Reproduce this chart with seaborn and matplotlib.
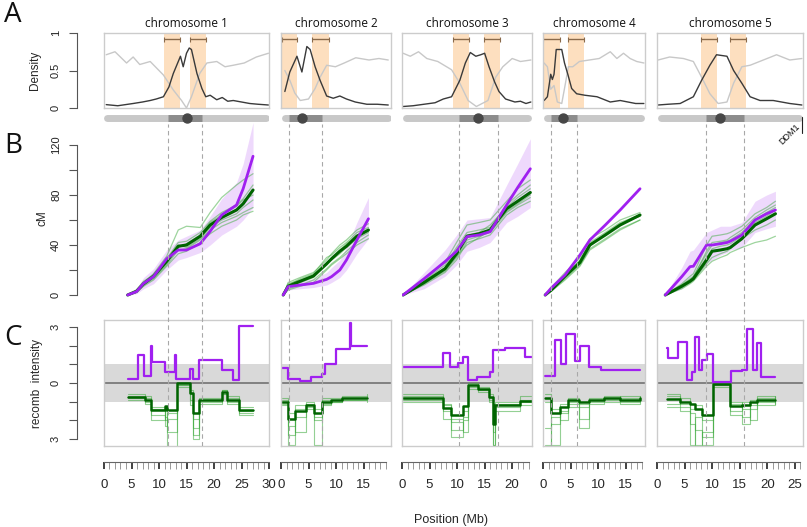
import matplotlib
matplotlib.use("Agg")
import matplotlib.pyplot as plt
import seaborn as sns
import numpy as np

# ---------------- chromosome-level data ----------------
chrom_titles = ["chromosome 1", "chromosome 2", "chromosome 3", "chromosome 4", "chromosome 5"]
chrom_extent = [30.0, 20.0, 23.6, 18.5, 26.5]   # Mb shown in each column
ruler_max = [30, 19, 23, 18, 26]
centromere_pos = [15.1, 3.8, 13.8, 3.6, 11.5]
peri_start = [11.6, 1.4, 10.4, 1.5, 8.9]
peri_end = [17.8, 7.5, 17.5, 6.2, 15.8]
hot_left = [(10.9, 13.8), (0.2, 2.9), (9.3, 12.2), (0.0, 3.1), (8.0, 10.9)]
hot_right = [(15.6, 18.5), (5.6, 8.7), (14.9, 17.8), (4.5, 7.5), (13.3, 16.2)]
ddm1_pos = 26.3

# ---------------- panel A: density ----------------
a1_x = [0.4, 2.5, 5.3, 7.0, 8.4, 9.5, 10.8, 11.8, 12.6, 13.9, 14.4, 15.0, 15.5, 15.9, 16.9, 17.8, 18.5, 19.3, 20.5, 21.5, 22.5, 23.5, 25.0, 26.5, 28.0, 29.9]
a1_black = [0.045, 0.03, 0.06, 0.08, 0.10, 0.12, 0.15, 0.28, 0.46, 0.69, 0.55, 0.73, 0.80, 0.78, 0.46, 0.26, 0.15, 0.17, 0.11, 0.14, 0.09, 0.10, 0.08, 0.06, 0.05, 0.04]
a1_gx = [0.4, 2.0, 4.1, 5.3, 6.5, 8.4, 10.8, 12.6, 14.1, 15.0, 15.9, 17.4, 18.7, 20.5, 22.0, 23.5, 25.5, 27.7, 29.9]
a1_grey = [0.71, 0.75, 0.60, 0.68, 0.58, 0.62, 0.44, 0.24, 0.10, 0.0, 0.15, 0.46, 0.60, 0.62, 0.55, 0.57, 0.60, 0.68, 0.73]

a2_x = [0.7, 1.6, 2.9, 3.8, 4.7, 5.3, 6.2, 7.1, 8.3, 9.5, 10.7, 11.9, 13.5, 15.6, 17.5, 19.5]
a2_black = [0.22, 0.48, 0.69, 0.48, 0.82, 0.78, 0.55, 0.37, 0.16, 0.13, 0.16, 0.12, 0.08, 0.05, 0.05, 0.04]
a2_gx = [0.7, 1.6, 2.5, 3.5, 5.0, 6.2, 7.1, 8.3, 9.9, 11.5, 13.6, 16.0, 17.8, 19.5]
a2_grey = [0.50, 0.37, 0.20, 0.10, 0.12, 0.26, 0.41, 0.57, 0.55, 0.60, 0.67, 0.64, 0.66, 0.64]

a3_x = [0.2, 2.0, 4.0, 6.0, 7.5, 9.0, 10.5, 11.5, 12.4, 13.4, 14.3, 15.0, 15.8, 16.8, 17.6, 18.8, 20.5, 21.5, 22.5, 23.4]
a3_black = [0.02, 0.03, 0.05, 0.07, 0.12, 0.15, 0.37, 0.60, 0.74, 0.69, 0.71, 0.73, 0.55, 0.35, 0.22, 0.12, 0.08, 0.09, 0.06, 0.08]
a3_gx = [0.2, 1.5, 3.0, 4.5, 6.5, 9.0, 10.5, 12.0, 13.5, 15.6, 17.0, 18.3, 20.0, 21.5, 23.4]
a3_grey = [0.73, 0.69, 0.75, 0.66, 0.62, 0.51, 0.33, 0.10, 0.02, 0.10, 0.41, 0.55, 0.66, 0.62, 0.64]

a4_x = [0.2, 0.8, 1.4, 1.7, 2.0, 2.4, 3.4, 3.9, 4.5, 5.2, 6.1, 7.6, 9.8, 12.2, 14.0, 16.8, 18.3]
a4_black = [0.10, 0.15, 0.45, 0.38, 0.45, 0.78, 0.78, 0.60, 0.45, 0.26, 0.19, 0.17, 0.15, 0.08, 0.10, 0.06, 0.06]
a4_gx = [0.2, 0.8, 1.4, 2.0, 2.6, 3.4, 4.0, 4.6, 5.4, 6.6, 8.4, 10.2, 12.2, 13.4, 14.6, 15.8, 17.0, 18.3]
a4_grey = [0.60, 0.55, 0.25, 0.30, 0.08, 0.06, 0.30, 0.55, 0.55, 0.62, 0.64, 0.66, 0.75, 0.66, 0.73, 0.66, 0.62, 0.60]

a5_x = [0.2, 2.0, 4.2, 6.6, 8.1, 9.6, 10.8, 12.7, 13.9, 15.4, 16.9, 18.7, 21.1, 24.1, 26.3]
a5_black = [0.04, 0.05, 0.06, 0.15, 0.37, 0.57, 0.71, 0.69, 0.50, 0.33, 0.15, 0.10, 0.10, 0.06, 0.04]
a5_gx = [0.2, 2.3, 4.8, 6.6, 8.1, 9.6, 11.1, 12.7, 13.9, 15.4, 16.9, 19.3, 21.7, 24.1, 26.3]
a5_grey = [0.64, 0.68, 0.66, 0.62, 0.41, 0.19, 0.06, 0.08, 0.33, 0.55, 0.57, 0.64, 0.71, 0.64, 0.66]

# ---------------- panel B: genetic maps (cM) ----------------
b1_pos = [4.3, 5.9, 7.2, 9.0, 11.4, 13.5, 15.0, 17.5, 19.3, 21.4, 24.1, 25.3, 27.1]
b1_purple = [0, 2.7, 9.3, 14.7, 29, 36, 36, 41, 51, 64, 72, 85, 111]
b1_mean = [0, 3, 9, 15, 27, 39, 40, 47, 56, 62, 68, 73, 84]
b1_lo = [0, 1, 5, 9, 20, 28, 30, 34, 40, 48, 55, 60, 70]
b1_hi = [0, 5, 14, 21, 36, 44, 47, 52, 63, 77, 90, 105, 138]
b1_runs = [[0, 3, 10, 17, 31, 52, 55, 54, 66, 78, 88, 92, 97],
           [0, 2, 8, 13, 24, 36, 37, 44, 52, 58, 63, 66, 70],
           [0, 4, 11, 16, 29, 42, 43, 50, 59, 66, 72, 77, 88],
           [0, 2, 7, 12, 23, 33, 35, 42, 49, 55, 60, 64, 67],
           [0, 3, 9, 15, 26, 38, 41, 48, 58, 64, 71, 76, 80],
           [0, 3, 8, 14, 25, 40, 38, 45, 54, 60, 65, 70, 76]]

b2_pos = [0.4, 1.3, 3.5, 5.9, 8.3, 9.2, 10.7, 11.9, 13.8, 15.9]
b2_purple = [0, 6.7, 8, 9.3, 12.5, 14.7, 20, 28, 44, 61]
b2_mean = [0, 7, 11, 15.2, 25, 29, 35, 39, 47, 52]
b2_lo = [0, 4, 5, 6, 8, 10, 14, 20, 33, 45]
b2_hi = [0, 9, 11, 13, 18, 22, 28, 38, 58, 78]
b2_runs = [[0, 10, 14, 18, 28, 33, 40, 44, 52, 57],
           [0, 5, 8, 12, 21, 25, 30, 35, 42, 48],
           [0, 8, 13, 17, 30, 32, 38, 42, 50, 54],
           [0, 4, 7, 10, 20, 24, 29, 33, 40, 45],
           [0, 9, 12, 16, 24, 30, 36, 41, 48, 51],
           [0, 6, 10, 14, 26, 28, 33, 38, 45, 50]]

b3_pos = [0.2, 4.0, 7.8, 9.9, 11.8, 14.0, 16.0, 19.0, 21.0, 23.3]
b3_purple = [0, 13, 26.7, 35, 46.7, 48, 50.7, 72, 86, 101]
b3_mean = [0, 10, 21, 33, 47, 49, 52, 69, 75, 82]
b3_lo = [0, 5, 15, 24, 35, 38, 42, 58, 63, 70]
b3_hi = [0, 18, 36, 48, 60, 61, 62, 88, 105, 125]
b3_runs = [[0, 12, 26, 42, 56, 58, 60, 75, 85, 92],
           [0, 8, 18, 28, 42, 45, 48, 64, 70, 75],
           [0, 11, 24, 38, 50, 52, 54, 72, 80, 88],
           [0, 9, 19, 30, 44, 47, 50, 66, 72, 78],
           [0, 10, 22, 36, 48, 50, 56, 70, 78, 85],
           [0, 9, 20, 31, 40, 46, 52, 67, 73, 80]]

b4_pos = [0.4, 1.5, 4.0, 6.7, 8.5, 11.3, 14.0, 17.6]
b4_purple = [0, 5.6, 16, 32, 44, 56, 68, 85]
b4_mean = [0, 4, 15, 26, 40, 48, 56, 64]
b4_runs = [[0, 6, 18, 30, 45, 52, 60, 66],
           [0, 3, 13, 24, 37, 45, 53, 60],
           [0, 5, 16, 28, 42, 50, 58, 64],
           [0, 3, 12, 23, 36, 44, 52, 60],
           [0, 4, 15, 27, 39, 49, 57, 63]]

b5_pos = [1.5, 4.5, 6.0, 6.6, 9.0, 10.0, 11.5, 12.7, 13.3, 15.4, 17.8, 19.9, 21.5]
b5_purple = [0, 14.7, 22.7, 23, 40, 40, 41, 42, 43, 48, 60, 65, 68]
b5_mean = [0, 7, 11, 13, 28, 35, 36, 37, 38, 45, 56, 61, 65]
b5_lo = [0, 5, 10, 12, 25, 28, 32, 34, 36, 38, 50, 53, 55]
b5_hi = [0, 22, 35, 36, 50, 52, 55, 55, 55, 58, 75, 80, 83]
b5_runs = [[0, 9, 15, 17, 40, 47, 48, 49, 50, 55, 65, 70, 75],
           [0, 6, 10, 12, 25, 30, 33, 35, 37, 45, 52, 56, 60],
           [0, 8, 13, 15, 33, 40, 42, 43, 44, 50, 60, 66, 70],
           [0, 5, 9, 11, 23, 27, 30, 32, 34, 38, 42, 44, 47],
           [0, 7, 12, 14, 30, 37, 39, 40, 41, 47, 58, 63, 68],
           [0, 8, 12, 14, 35, 42, 43, 44, 46, 52, 62, 68, 72]]

# ---------------- panel C: recombination intensity ----------------
c1_px = [4.4, 6.1, 7.3, 8.5, 8.8, 11.0, 12.9, 13.1, 15.6, 16.2, 17.3, 21.4, 23.5, 24.5, 27.1]
c1_purple = [0.2, 1.5, 0.35, 2.0, 1.15, 0.6, 1.5, 0.2, 0.75, 0.2, 1.25, 0.7, 0.15, 3.05, 3.05]
c1_gx = [4.4, 7.4, 8.6, 11.0, 11.5, 13.3, 15.6, 16.2, 17.3, 21.4, 22.3, 24.5, 27.1]
c1_green = [0.75, 0.9, 1.45, 1.25, 1.45, 0.0, 0.55, 1.6, 0.9, 0.5, 0.9, 1.45, 1.45]
c1_runs = [[0.6, 0.8, 1.7, 2.0, 1.9, 0.1, 0.9, 2.4, 1.0, 0.4, 0.8, 1.3, 1.3],
           [0.9, 1.0, 1.3, 1.8, 2.6, 0.0, 0.4, 2.8, 0.8, 0.6, 1.0, 1.6, 1.6],
           [0.7, 1.1, 2.0, 1.5, 3.4, 0.2, 0.6, 1.9, 1.1, 0.6, 0.7, 1.5, 1.5],
           [0.8, 0.7, 1.4, 2.3, 1.6, 0.1, 1.2, 3.0, 0.9, 0.4, 1.1, 1.7, 1.7]]

c2_px = [0.2, 1.2, 3.5, 5.5, 7.5, 8.0, 10.0, 12.5, 12.8, 15.6]
c2_purple = [0.8, 0.2, 0.1, 0.3, 0.5, 1.0, 1.8, 3.2, 2.0, 2.0]
c2_gx = [0.2, 1.2, 2.5, 4.5, 6.0, 7.5, 9.0, 11.0, 15.6]
c2_green = [1.0, 1.9, 1.5, 1.2, 1.6, 1.0, 0.9, 0.8, 0.8]
c2_runs = [[0.8, 2.3, 1.8, 1.0, 2.0, 1.2, 1.0, 0.9, 0.9],
           [1.2, 2.8, 1.2, 1.4, 3.3, 0.8, 0.8, 0.7, 0.7],
           [0.9, 1.6, 2.6, 1.1, 1.4, 1.1, 1.0, 0.9, 1.0],
           [1.1, 3.3, 1.4, 1.3, 1.8, 0.9, 0.9, 0.8, 0.6]]

c3_px = [0.1, 7.5, 8.7, 10.2, 11.1, 11.9, 13.6, 16.0, 16.6, 18.7, 22.4, 23.6]
c3_purple = [0.87, 1.62, 0.87, 1.06, 1.4, 0.16, 0.34, 0.6, 1.76, 1.85, 1.38, 1.38]
c3_gx = [0.1, 7.4, 8.9, 11.1, 12.0, 13.8, 15.8, 16.6, 16.9, 21.4, 23.6]
c3_green = [0.82, 1.36, 1.71, 1.25, 0.1, 0.3, 0.75, 2.2, 1.2, 0.98, 0.98]
c3_runs = [[0.7, 1.9, 2.5, 1.5, 0.2, 0.4, 0.9, 3.3, 1.1, 1.0, 1.0],
           [0.9, 1.2, 2.9, 2.0, 0.0, 0.2, 0.6, 2.6, 1.3, 0.9, 0.9],
           [0.6, 1.5, 2.1, 2.6, 0.3, 0.5, 1.0, 3.3, 1.5, 1.2, 0.8],
           [1.0, 1.1, 1.9, 1.8, 0.1, 0.3, 0.8, 1.8, 1.0, 0.7, 1.1]]

c4_px = [0.3, 2.2, 3.3, 4.1, 5.8, 6.7, 8.4, 10.5, 17.6]
c4_purple = [0.4, 2.3, 1.0, 2.6, 1.2, 2.0, 0.85, 0.7, 0.7]
c4_gx = [0.3, 1.5, 3.0, 4.5, 6.5, 8.4, 11.0, 14.0, 17.6]
c4_green = [0.8, 1.6, 1.3, 0.9, 1.0, 0.9, 0.8, 0.9, 0.8]
c4_runs = [[3.3, 1.8, 1.5, 1.1, 1.3, 1.0, 0.9, 1.0, 0.9],
           [2.4, 2.2, 1.1, 0.8, 1.9, 0.8, 0.7, 0.8, 0.7],
           [1.0, 3.3, 1.6, 1.0, 1.1, 1.1, 1.0, 1.1, 1.0],
           [0.6, 1.4, 2.0, 1.3, 2.4, 0.9, 0.8, 0.7, 0.8]]

c5_px = [1.8, 2.0, 3.9, 5.4, 6.4, 6.9, 7.7, 8.1, 9.1, 10.2, 13.4, 15.4, 16.3, 17.4, 18.1, 18.9, 21.5]
c5_purple = [1.85, 1.32, 2.2, 0.16, 0.6, 2.47, 0.7, 1.23, 1.55, 0.07, 0.64, 0.7, 2.87, 0.7, 2.16, 0.34, 0.34]
c5_gx = [1.8, 4.1, 5.9, 6.9, 8.1, 10.1, 13.3, 15.4, 16.8, 18.1, 21.5]
c5_green = [0.88, 1.0, 1.1, 1.4, 1.7, 0.05, 1.25, 1.2, 1.0, 0.9, 0.9]
c5_runs = [[0.7, 1.3, 2.2, 3.3, 2.6, 0.1, 1.0, 1.8, 1.2, 0.8, 0.8],
           [1.1, 0.8, 1.6, 2.5, 3.3, 0.0, 1.5, 1.0, 2.0, 1.0, 1.0],
           [1.3, 1.5, 3.3, 1.8, 2.0, 0.2, 1.1, 1.4, 0.9, 1.2, 0.7],
           [0.6, 1.1, 1.4, 1.2, 2.9, 0.1, 1.7, 2.2, 1.4, 0.7, 1.1]]

panel_a = [(a1_x, a1_black, a1_gx, a1_grey), (a2_x, a2_black, a2_gx, a2_grey),
           (a3_x, a3_black, a3_gx, a3_grey), (a4_x, a4_black, a4_gx, a4_grey),
           (a5_x, a5_black, a5_gx, a5_grey)]
panel_b = [(b1_pos, b1_purple, b1_mean, b1_lo, b1_hi, b1_runs),
           (b2_pos, b2_purple, b2_mean, b2_lo, b2_hi, b2_runs),
           (b3_pos, b3_purple, b3_mean, b3_lo, b3_hi, b3_runs),
           (b4_pos, b4_purple, b4_mean, None, None, b4_runs),
           (b5_pos, b5_purple, b5_mean, b5_lo, b5_hi, b5_runs)]
panel_c = [(c1_px, c1_purple, c1_gx, c1_green, c1_runs),
           (c2_px, c2_purple, c2_gx, c2_green, c2_runs),
           (c3_px, c3_purple, c3_gx, c3_green, c3_runs),
           (c4_px, c4_purple, c4_gx, c4_green, c4_runs),
           (c5_px, c5_purple, c5_gx, c5_green, c5_runs)]

# ---------------- style ----------------
sns.set_style("white")
plt.rcParams["font.family"] = ["Liberation Sans", "DejaVu Sans"]

PURPLE = "#A020F0"
DKGREEN = "#006400"
THIN_GREEN = "#3DAA3D"
PEACH = "#FDDFBF"
FRAME = "#cccccc"
AX_GREY = "#555555"

W, H = 807, 527
col_px = [(104, 269), (281, 391), (402, 532), (543, 645), (657, 803)]
fig = plt.figure(figsize=(W / 100, H / 100), dpi=100)


def box(x0, y0, x1, y1):
    return [x0 / W, 1 - y1 / H, (x1 - x0) / W, (y1 - y0) / H]


def line(ax, x, y, **kw):
    sns.lineplot(x=x, y=y, ax=ax, estimator=None, sort=False, legend=False, **kw)


def framed(ax):
    ax.set_xticks([])
    ax.set_yticks([])
    ax.set(xlabel="", ylabel="")
    for s in ax.spines.values():
        s.set_visible(True)
        s.set_color(FRAME)
        s.set_linewidth(1.0)


for i in range(5):
    x0, x1 = col_px[i]
    L = chrom_extent[i]

    # --- A: density with hotspot bands ---
    ax = fig.add_axes(box(x0, 33, x1, 108))
    for lo, hi in (hot_left[i], hot_right[i]):
        ax.axvspan(lo, hi, color=PEACH, lw=0, zorder=0)
        ax.errorbar((lo + hi) / 2, 0.92, xerr=(hi - lo) / 2, fmt="none",
                    ecolor="#8a6a4a", elinewidth=1.0, capsize=1.8, capthick=0.8)
    ax_x, ax_y, g_x, g_y = panel_a[i]
    line(ax, g_x, g_y, color="#c8c8c8", lw=1.0)
    line(ax, ax_x, ax_y, color="#3a3a3a", lw=1.0)
    ax.set_xlim(0, L)
    ax.set_ylim(0, 1.0)
    framed(ax)
    ax.set_title(chrom_titles[i], fontfamily="Open Sans", fontsize=8.5, pad=4, color="#111")

    # --- chromosome bar ---
    axb = fig.add_axes(box(x0, 111, x1, 124))
    cap = 3.5 / 5.5
    axb.plot([cap, L - cap], [0, 0], color="#c8c8c8", lw=5, solid_capstyle="round")
    axb.plot([peri_start[i], peri_end[i]], [0, 0], color="#8c8c8c", lw=5, solid_capstyle="butt")
    axb.scatter([centromere_pos[i]], [0], s=42, color="#474747", zorder=3)
    axb.set_xlim(0, L)
    axb.set_ylim(-1, 1)
    axb.axis("off")
    if i == 4:
        axb.axvline(ddm1_pos, ymin=-0.7, ymax=0.55, color="#222", lw=0.8, clip_on=False)
        axb.annotate("DDM1", xy=(ddm1_pos, 0.5), xycoords=("data", "axes fraction"),
                     xytext=(-9, -12), textcoords="offset points", rotation=45,
                     ha="center", va="center", fontsize=6.5, color="#111")

    # --- B: cM maps ---
    ax = fig.add_axes(box(x0, 120, x1, 310))
    pos, purple, mean, lo, hi, runs = panel_b[i]
    if lo is not None:
        ax.fill_between(pos, lo, hi, color=PURPLE, alpha=0.17, lw=0)
    for r in runs:
        line(ax, pos, r, color=THIN_GREEN, lw=0.9, alpha=0.5)
    line(ax, pos, mean, color=DKGREEN, lw=2.2)
    line(ax, pos, purple, color=PURPLE, lw=2.0)
    ax.set_xlim(0, L)
    ax.set_ylim(-12, 140)
    ax.axis("off")

    # --- C: recombination intensity ---
    ax = fig.add_axes(box(x0, 320, x1, 446))
    ax.axhspan(-1, 1, color="#d9d9d9", lw=0, zorder=0)
    ax.axhline(0, color="#7a7a7a", lw=1.3, zorder=1)
    p_x, p_y, g_x, g_y, runs = panel_c[i]
    for r in runs:
        line(ax, g_x, np.negative(r), color=THIN_GREEN, lw=0.8, alpha=0.55,
             drawstyle="steps-post")
    line(ax, g_x, np.negative(g_y), color=DKGREEN, lw=1.8, drawstyle="steps-post")
    line(ax, p_x, p_y, color=PURPLE, lw=1.6, drawstyle="steps-post")
    ax.set_xlim(0, L)
    ax.set_ylim(-3.37, 3.37)
    framed(ax)

    # --- dashed pericentromere boundaries ---
    axo = fig.add_axes(box(x0, 124, x1, 446))
    axo.patch.set_alpha(0)
    for xv in (peri_start[i], peri_end[i]):
        axo.axvline(xv, color="#a8a8a8", lw=0.8, ls=(0, (4, 3)))
    axo.set_xlim(0, L)
    axo.axis("off")

    # --- position ruler ---
    axr = fig.add_axes(box(x0, 462, x1, 469))
    axr.patch.set_alpha(0)
    axr.set_xlim(0, L)
    axr.set_ylim(0, 1)
    for s in ("left", "right", "bottom"):
        axr.spines[s].set_visible(False)
    axr.spines["top"].set_color("#666")
    axr.spines["top"].set_linewidth(0.8)
    axr.spines["top"].set_bounds(0, ruler_max[i])
    axr.set_yticks([])
    axr.set_xticks(range(0, ruler_max[i] + 1, 5))
    axr.set_xticks(range(0, ruler_max[i] + 1), minor=True)
    axr.tick_params(axis="x", which="both", top=True, bottom=False, labeltop=False,
                    labelbottom=True, direction="in", length=5)
    axr.tick_params(axis="x", which="major", width=1.3, color="#333", labelsize=9.5, pad=7.5)
    axr.tick_params(axis="x", which="minor", width=0.6, color="#888")


def left_axis(y0, y1, lims, bounds, major, labels, minor=None):
    ax = fig.add_axes(box(77, y0, 78, y1))
    ax.patch.set_alpha(0)
    ax.set_ylim(*lims)
    for s in ("top", "right", "bottom"):
        ax.spines[s].set_visible(False)
    ax.spines["left"].set_bounds(*bounds)
    ax.spines["left"].set_color(AX_GREY)
    ax.spines["left"].set_linewidth(0.8)
    ax.set_xticks([])
    ax.set_yticks(major)
    ax.set_yticklabels(labels, rotation=90, va="center")
    if minor is not None:
        ax.set_yticks(minor, minor=True)
    ax.tick_params(axis="y", which="both", left=True, direction="out", length=5.5, width=0.8,
                   color=AX_GREY, labelsize=8, pad=6, labelcolor="#222")
    return ax


left_axis(33, 108, (0, 1.0), (0, 1), [0, 0.5, 1], ["0", "0.5", "1"])
left_axis(120, 310, (-12, 140), (0, 120), [0, 40, 80, 120], ["0", "40", "80", "120"],
          minor=[20, 60, 100])
left_axis(320, 446, (-3.37, 3.37), (-3, 3), [-3, 0, 3], ["3", "0", "3"],
          minor=[-2, -1, 1, 2])

fig.text(35 / W, 1 - 70 / H, "Density", rotation=90, ha="center", va="center", fontsize=8.5)
fig.text(42 / W, 1 - 218 / H, "cM", rotation=90, ha="center", va="center", fontsize=8.5)
fig.text(37 / W, 1 - 383 / H, "recomb  intensity", rotation=90, ha="center", va="center", fontsize=8.5)
fig.text(451 / W, 1 - 520 / H, "Position (Mb)", ha="center", va="center", fontsize=9)

for letter, yy in (("A", 15), ("B", 146), ("C", 338)):
    fig.text(13 / W, 1 - yy / H, letter, ha="center", va="center", fontsize=20,
             fontfamily="Open Sans", color="#111")

fig.savefig("out.png", dpi=100)
